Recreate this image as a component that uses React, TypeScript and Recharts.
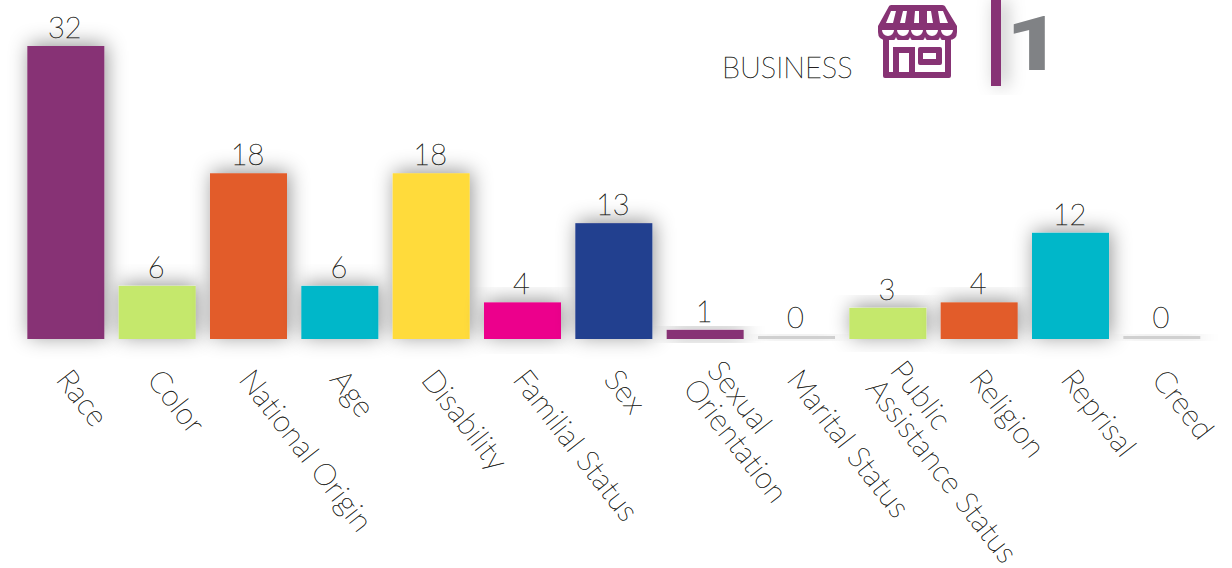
import { BarChart, Bar, XAxis, YAxis, LabelList } from 'recharts'

const categories = [
  'Race',
  'Color',
  'National Origin',
  'Age',
  'Disability',
  'Familial Status',
  'Sex',
  'Sexual|Orientation',
  'Marital Status',
  'Public|Assistance Status',
  'Religion',
  'Reprisal',
  'Creed',
]
// printed numbers
const counts = [32, 6, 18, 6, 18, 4, 13, 1, 0, 3, 4, 12, 0]
// bar lengths, the source art is not exactly to scale
const barLengths = [32, 5.8, 18.1, 5.8, 18.1, 4, 12.65, 1, 0, 3.4, 4, 11.6, 0]
const barColors = [
  '#873374',
  '#c5e86c',
  '#e25b29',
  '#00b7c9',
  '#ffdb3a',
  '#ec008c',
  '#233f8f',
  '#873374',
  '#d0d0d0',
  '#c5e86c',
  '#e25b29',
  '#00b7c9',
  '#d0d0d0',
]

const data = categories.map((name, i) => ({
  name,
  length: barLengths[i],
  count: counts[i],
}))

const FONT = 'Lato, sans-serif'
const INK = '#231f20'
const PURPLE = '#873374'
// Lato Hairline with a thin outline comes closest to the light face in the picture
const textStyle = {
  fontFamily: FONT,
  fontWeight: 200,
  fontSize: 29,
  fill: INK,
  stroke: INK,
  strokeWidth: 0.45,
}

function ShadowBar({ x, y, width, height, index }: any) {
  return (
    <rect
      x={x}
      y={y}
      width={width}
      height={height}
      fill={barColors[index]}
      filter="url(#barShadow)"
    />
  )
}

function SlantedTick({ x, y, payload }: any) {
  const lines = String(payload.value).split('|')
  const lineGap = 30
  return (
    <g>
      {lines.map((line: string, i: number) => {
        const shift = (i - (lines.length - 1) / 2) * lineGap
        return (
          <text
            key={line}
            transform={`translate(${x - 11 - shift * 0.8},${y + 33 + shift * 0.6}) rotate(52)`}
            style={{ ...textStyle, fontSize: 30, letterSpacing: 0.3 }}
          >
            {line}
          </text>
        )
      })}
    </g>
  )
}

function StoreIcon() {
  return (
    <svg
      width={1232}
      height={568}
      style={{ position: 'absolute', left: 0, top: 0 }}
    >
      <defs>
        <filter id="stripeShadow" x="-400%" width="900%" y="-10%" height="120%">
          <feDropShadow dx="5" dy="0" stdDeviation="9" floodColor="#000" floodOpacity="0.3" />
        </filter>
      </defs>
      <text x={722} y={78} style={textStyle}>
        BUSINESS
      </text>
      {/* awning */}
      <path
        d="M891 5 H942 Q945 5 946 8 L957 26 V32 Q957 40 949 40 H886 Q878 40 878 32 V26 L888 8 Q889 5 891 5 Z"
        fill={PURPLE}
      />
      <path
        d="M891 11 H896 L893 23 H886 Z M903 11 H907 L905 23 H900 Z M915 11 H919 V23 H914 Z M927 11 H931 L933 23 H927 Z M938 11 H943 L948 23 H940 Z"
        fill="#fff"
      />
      <path
        d="M882 30 H894 A6 6 0 0 1 882 30 Z M897 30 H909 A6 6 0 0 1 897 30 Z M911 30 H923 A6 6 0 0 1 911 30 Z M926 30 H938 A6 6 0 0 1 926 30 Z M941 30 H953 A6 6 0 0 1 941 30 Z"
        fill="#fff"
      />
      {/* scallop notches under the awning */}
      <path
        d="M896 37 Q895 41 890 42 H902 Q897 41 896 37 Z M910 37 Q909 41 904 42 H916 Q911 41 910 37 Z M925 37 Q924 41 919 42 H931 Q926 41 925 37 Z M940 37 Q939 41 934 42 H946 Q941 41 940 37 Z"
        fill="#fff"
      />
      {/* shop body */}
      <path
        d="M883 38 H889 V72 H893 V47 H915 V72 H945 V38 H951 V76 Q951 78 949 78 H885 Q883 78 883 76 Z M899 53 V72 H909 V53 Z"
        fill={PURPLE}
        fillRule="evenodd"
      />
      <path
        d="M920 47 H940 Q942 47 942 49 V63 Q942 65 940 65 H920 Q918 65 918 63 V49 Q918 47 920 47 Z M923 53 V59 H936 V53 Z"
        fill={PURPLE}
        fillRule="evenodd"
      />
      {/* total */}
      <rect x={991} y={0} width={10} height={86} fill={PURPLE} filter="url(#stripeShadow)" />
      <text
        transform="translate(1006,70) scale(1.25,1)"
        fontFamily="Roboto, sans-serif"
        fontWeight={900}
        fontSize={76}
        fill="#808285"
      >
        1
      </text>
    </svg>
  )
}

export default function App() {
  return (
    <div style={{ position: 'absolute', left: 0, top: 0, width: 1232, height: 568, background: '#fff' }}>
      <BarChart
        width={1232}
        height={568}
        data={data}
        margin={{ top: 46, right: 24.33, bottom: 0, left: 20.33 }}
      >
        <defs>
          <filter id="barShadow" x="-50%" y="-40%" width="200%" height="180%">
            <feDropShadow dx="2" dy="-2" stdDeviation="10" floodColor="#000" floodOpacity="0.42" />
          </filter>
        </defs>
        <YAxis hide domain={[0, 32]} />
        <XAxis
          dataKey="name"
          axisLine={false}
          tickLine={false}
          height={229}
          interval={0}
          tick={<SlantedTick />}
        />
        <Bar
          dataKey="length"
          barSize={77}
          minPointSize={3}
          isAnimationActive={false}
          shape={<ShadowBar />}
        >
          <LabelList dataKey="count" position="top" offset={8} dx={-1} style={textStyle} />
        </Bar>
      </BarChart>
      <StoreIcon />
    </div>
  )
}
